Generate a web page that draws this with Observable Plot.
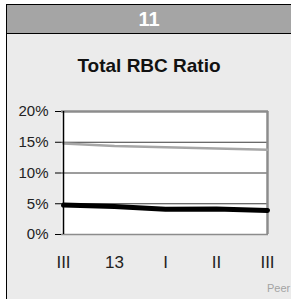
<!DOCTYPE html>
<html>
<head>
<meta charset="utf-8">
<script src="https://cdn.jsdelivr.net/npm/d3@7"></script>
<script src="https://cdn.jsdelivr.net/npm/@observablehq/plot@0.6"></script>
<style>
  html, body { margin: 0; padding: 0; }
  body { width: 291px; height: 299px; overflow: hidden; background: #fff; position: relative;
         font-family: "Liberation Sans", Arial, Helvetica, sans-serif; }
  #box { position: absolute; left: 6px; top: 4px; right: 0; height: 320px;
         border-left: 1.5px solid #000; border-top: 1.5px solid #000; background: #ebebeb; }
  #hdr { height: 28px; background: #a5a5a5; border-bottom: 1.5px solid #000; color: #fff;
         font-weight: bold; font-size: 20px; line-height: 29px; text-align: center; }
  #title { position: absolute; left: 0; right: 0; top: 51px; text-align: center;
           font-weight: bold; font-size: 19px; line-height: 19px; color: #111; }
  #chart { position: absolute; left: 0; top: 100px; }
  #legend { position: absolute; left: 267px; top: 282px; font-size: 11px; color: #a3a3a3; white-space: nowrap; }
</style>
</head>
<body>
<div id="box">
  <div id="hdr">11</div>
  <div id="title">Total RBC Ratio</div>
</div>
<div id="chart"></div>
<div id="legend">Peer</div>
<script>
const quarters = ["2012-Q3", "2012-Q4", "2013-Q1", "2013-Q2", "2013-Q3"];
const tickLabels = ["III", "13", "I", "II", "III"];
const peerValues = [14.8, 14.4, 14.2, 14.0, 13.8];
const bankValues = [4.8, 4.55, 4.1, 4.15, 3.9];
const yTicks = [0, 5, 10, 15, 20];
const gridValues = [5, 10, 15];

const rows = quarters.map((q, i) => ({q, peer: peerValues[i], bank: bankValues[i]}));

const chart = Plot.plot({
  width: 291,
  height: 199,
  marginLeft: 61,
  marginRight: 23,
  marginTop: 11,
  marginBottom: 65,
  style: {background: "transparent", fontFamily: "'Liberation Sans', Arial, Helvetica, sans-serif", color: "#222", overflow: "visible"},
  x: {type: "point", domain: quarters, padding: 0, label: null},
  y: {domain: [0, 20], label: null},
  marks: [
    Plot.frame({fill: "white", stroke: null}),
    Plot.ruleY(gridValues, {stroke: "#3a3a3a", strokeWidth: 1}),
    Plot.ruleY([20], {stroke: "#8c8c8c", strokeWidth: 2.5}),
    Plot.ruleY([0], {stroke: "#8c8c8c", strokeWidth: 1.5}),
    Plot.ruleX([quarters[quarters.length - 1]], {stroke: "#8c8c8c", strokeWidth: 2.5}),
    Plot.line(rows, {x: "q", y: "peer", stroke: "#a6a6a6", strokeWidth: 2.5}),
    Plot.line(rows, {x: "q", y: "bank", stroke: "#000", strokeWidth: 5, strokeLinecap: "round"}),
    Plot.ruleX([quarters[0]], {stroke: "#000", strokeWidth: 1.5}),
    Plot.axisY({ticks: yTicks, tickFormat: d => d + "%", tickSize: 6, tickPadding: 7, fontSize: 15, stroke: "#000", strokeOpacity: 1, label: null}),
    Plot.axisX({tickSize: 0, tickPadding: 21, fontSize: 17, tickFormat: d => tickLabels[quarters.indexOf(d)], label: null})
  ]
});
document.getElementById("chart").appendChild(chart);
</script>
</body>
</html>
